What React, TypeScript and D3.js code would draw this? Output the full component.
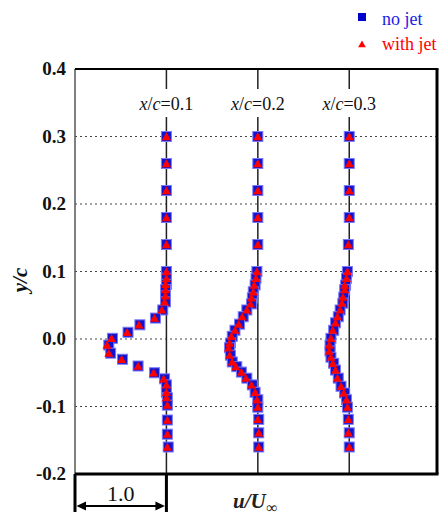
import React, { useEffect, useRef } from "react";
import * as d3 from "d3";

// station labels (x/c)
const stations = ["0.1", "0.2", "0.3"];
const yTicks = [0.4, 0.3, 0.2, 0.1, 0, -0.1, -0.2];
const gridTicks = [0.3, 0.2, 0.1, 0, -0.1];

// x/c = 0.1
const y1 = [0.3, 0.26, 0.22, 0.18, 0.14, 0.1, 0.09, 0.081, 0.073, 0.064, 0.055, 0.043, 0.031, 0.021, 0.01, 0.001, -0.009, -0.021, -0.03, -0.04, -0.05, -0.059, -0.068, -0.079, -0.087, -0.098, -0.12, -0.141, -0.16];
const u1NoJet = [1.0, 1.0, 1.0, 1.0, 1.0, 1.0, 1.0, 1.0, 0.99, 0.99, 0.99, 0.96, 0.88, 0.71, 0.58, 0.41, 0.37, 0.39, 0.52, 0.69, 0.87, 0.98, 1.0, 1.0, 1.01, 1.01, 1.01, 1.01, 1.02];
const u1WithJet = [1.0, 1.0, 1.0, 1.0, 1.0, 1.0, 1.0, 0.99, 0.99, 0.99, 0.98, 0.95, 0.87, 0.7, 0.57, 0.4, 0.35, 0.37, 0.51, 0.69, 0.86, 0.97, 1.0, 1.0, 1.0, 1.01, 1.01, 1.01, 1.01];

// x/c = 0.2
const y2 = [0.3, 0.26, 0.22, 0.18, 0.14, 0.1, 0.09, 0.08, 0.07, 0.061, 0.052, 0.043, 0.033, 0.022, 0.013, 0.004, -0.006, -0.013, -0.024, -0.034, -0.041, -0.049, -0.058, -0.068, -0.079, -0.09, -0.101, -0.119, -0.139, -0.16];
const u2NoJet = [1.0, 1.0, 1.0, 1.0, 1.0, 0.99, 0.98, 0.97, 0.95, 0.94, 0.93, 0.88, 0.84, 0.8, 0.75, 0.72, 0.7, 0.69, 0.7, 0.72, 0.77, 0.82, 0.88, 0.94, 0.97, 1.0, 1.0, 1.01, 1.01, 1.01];
const u2WithJet = [1.0, 1.0, 1.0, 1.0, 1.0, 0.99, 0.98, 0.96, 0.95, 0.93, 0.92, 0.88, 0.83, 0.79, 0.75, 0.71, 0.69, 0.68, 0.69, 0.72, 0.76, 0.82, 0.87, 0.93, 0.97, 0.99, 1.0, 1.0, 1.01, 1.01];

// x/c = 0.3
const y3 = [0.3, 0.26, 0.22, 0.18, 0.14, 0.1, 0.09, 0.08, 0.073, 0.062, 0.053, 0.043, 0.033, 0.024, 0.013, 0.001, -0.009, -0.018, -0.027, -0.036, -0.046, -0.058, -0.07, -0.08, -0.09, -0.101, -0.119, -0.139, -0.16];
const u3NoJet = [1.0, 1.0, 1.0, 1.0, 0.99, 0.98, 0.97, 0.96, 0.95, 0.94, 0.93, 0.9, 0.88, 0.85, 0.83, 0.8, 0.79, 0.79, 0.8, 0.83, 0.85, 0.88, 0.91, 0.95, 0.97, 0.98, 0.99, 1.0, 1.0];
const u3WithJet = [1.0, 1.0, 1.0, 1.0, 0.99, 0.98, 0.97, 0.95, 0.95, 0.93, 0.92, 0.9, 0.87, 0.85, 0.82, 0.8, 0.78, 0.78, 0.8, 0.82, 0.85, 0.87, 0.91, 0.94, 0.97, 0.98, 0.99, 0.99, 1.0];

const profiles = [
  { y: y1, noJet: u1NoJet, withJet: u1WithJet },
  { y: y2, noJet: u2NoJet, withJet: u2WithJet },
  { y: y3, noJet: u3NoJet, withJet: u3WithJet },
];

const width = 446;
const height = 520;
const serif = "Liberation Serif, DejaVu Serif, serif";

const App = () => {
  const ref = useRef<SVGSVGElement | null>(null);

  useEffect(() => {
    drawChart();
    //eslint-disable-next-line
  }, []);

  function drawChart() {
    const svg = d3.select(ref.current);
    svg.selectAll("*").remove();

    const left = 75;
    const right = 437;
    const top = 69;
    const bottom = 474;

    // u/U offset: each station shifted by 1.0
    const x = d3.scaleLinear().domain([0, 3.96]).range([left, right]);
    const y = d3.scaleLinear().domain([-0.2, 0.4]).range([bottom, top]);

    svg.append("rect").attr("width", width).attr("height", height).attr("fill", "#fff");

    // dotted grid
    svg
      .selectAll(".grid")
      .data(gridTicks)
      .join("line")
      .attr("x1", left)
      .attr("x2", right)
      .attr("y1", (d) => y(d))
      .attr("y2", (d) => y(d))
      .attr("stroke", "#444")
      .attr("stroke-width", 1.2)
      .attr("stroke-dasharray", "2,3");

    // station lines with gap for label
    stations.forEach((s, i) => {
      const sx = x(i + 1);
      svg.append("line").attr("x1", sx).attr("x2", sx).attr("y1", top).attr("y2", 89)
        .attr("stroke", "#222").attr("stroke-width", 1.5);
      svg.append("line").attr("x1", sx).attr("x2", sx).attr("y1", 117).attr("y2", bottom)
        .attr("stroke", "#222").attr("stroke-width", 1.5);
      const t = svg.append("text")
        .attr("x", sx)
        .attr("y", 110)
        .attr("text-anchor", "middle")
        .style("font-family", serif)
        .attr("font-size", 18)
        .attr("fill", "#111");
      t.append("tspan").attr("font-style", "italic").text("x");
      t.append("tspan").text("/");
      t.append("tspan").attr("font-style", "italic").text("c");
      t.append("tspan").text("=" + s);
    });

    // markers
    const sq = 10;
    profiles.forEach((p, i) => {
      svg
        .append("g")
        .selectAll("rect")
        .data(p.y.map((yy, k) => [p.noJet[k], yy]))
        .join("rect")
        .attr("x", (d) => x(i + d[0]) - sq / 2)
        .attr("y", (d) => y(d[1]) - sq / 2)
        .attr("width", sq)
        .attr("height", sq)
        .attr("fill", "#1414cc")
        .attr("stroke", "#7a7aff")
        .attr("stroke-width", 1);
    });
    const tri = d3.symbol().type(d3.symbolTriangle).size(36);
    profiles.forEach((p, i) => {
      svg
        .append("g")
        .selectAll("path")
        .data(p.y.map((yy, k) => [p.withJet[k], yy]))
        .join("path")
        .attr("d", tri)
        .attr("transform", (d) => `translate(${x(i + d[0])},${y(d[1]) + 1})`)
        .attr("fill", "#ff0000");
    });

    // frame
    svg.append("line").attr("x1", left).attr("x2", left).attr("y1", top).attr("y2", bottom)
      .attr("stroke", "#555").attr("stroke-width", 1.5);
    svg.append("line").attr("x1", left).attr("x2", right + 1.5).attr("y1", top).attr("y2", top)
      .attr("stroke", "#000").attr("stroke-width", 2);
    svg.append("line").attr("x1", right).attr("x2", right).attr("y1", top).attr("y2", bottom)
      .attr("stroke", "#000").attr("stroke-width", 3);
    svg.append("line").attr("x1", left).attr("x2", right + 1.5).attr("y1", bottom).attr("y2", bottom)
      .attr("stroke", "#000").attr("stroke-width", 3);

    // y tick labels
    svg
      .selectAll(".ytick")
      .data(yTicks)
      .join("text")
      .attr("x", 66)
      .attr("y", (d) => y(d) + 6)
      .attr("text-anchor", "end")
      .style("font-family", serif)
      .attr("font-weight", "bold")
      .attr("font-size", 19)
      .attr("fill", "#111")
      .text((d) => d3.format(".1f")(d).replace("\u2212", "-"));

    // y label
    svg.append("text")
      .attr("transform", "translate(27,280) rotate(-90)")
      .attr("text-anchor", "middle")
      .style("font-family", serif)
      .attr("font-weight", "bold")
      .attr("font-style", "italic")
      .attr("font-size", 21)
      .attr("fill", "#111")
      .text("y/c");

    // scale bar 1.0
    const x0 = x(0);
    const x1 = x(1);
    svg.append("line").attr("x1", x0).attr("x2", x0).attr("y1", bottom).attr("y2", 512)
      .attr("stroke", "#000").attr("stroke-width", 3);
    svg.append("line").attr("x1", x1).attr("x2", x1).attr("y1", bottom).attr("y2", 512)
      .attr("stroke", "#000").attr("stroke-width", 3);
    svg.append("line").attr("x1", x0 + 8).attr("x2", x1 - 8).attr("y1", 506).attr("y2", 506)
      .attr("stroke", "#000").attr("stroke-width", 2);
    svg.append("path").attr("d", `M${x0 + 1.5},506 L${x0 + 11},501.5 L${x0 + 11},510.5 Z`).attr("fill", "#000");
    svg.append("path").attr("d", `M${x1 - 1.5},506 L${x1 - 11},501.5 L${x1 - 11},510.5 Z`).attr("fill", "#000");
    svg.append("text")
      .attr("x", (x0 + x1) / 2)
      .attr("y", 501)
      .attr("text-anchor", "middle")
      .style("font-family", serif)
      .attr("font-size", 22)
      .attr("fill", "#111")
      .text("1.0");

    // x label
    const xl = svg.append("text")
      .attr("x", 233)
      .attr("y", 508)
      .style("font-family", serif)
      .attr("font-style", "italic")
      .attr("font-weight", "bold")
      .attr("font-size", 21)
      .attr("fill", "#222");
    xl.append("tspan").text("u/U");
    xl.append("tspan").attr("dy", 5).attr("font-size", 16).text("\u221e");

    // legend
    svg.append("rect").attr("x", 358).attr("y", 13).attr("width", 8).attr("height", 8).attr("fill", "#0000cc");
    svg.append("text").attr("x", 382).attr("y", 25).style("font-family", serif).attr("font-size", 18)
      .attr("fill", "#1a1ae6").text("no jet");
    svg.append("path").attr("d", d3.symbol().type(d3.symbolTriangle).size(26)).attr("transform", "translate(362,45)")
      .attr("fill", "#ff0000");
    svg.append("text").attr("x", 382).attr("y", 50).style("font-family", serif).attr("font-size", 18)
      .attr("fill", "#ff0000").text("with jet");
  }

  return (
    <svg
      ref={ref}
      width={width}
      height={height}
      style={{ position: "absolute", left: 0, top: 0, display: "block" }}
    />
  );
};

export default App;
